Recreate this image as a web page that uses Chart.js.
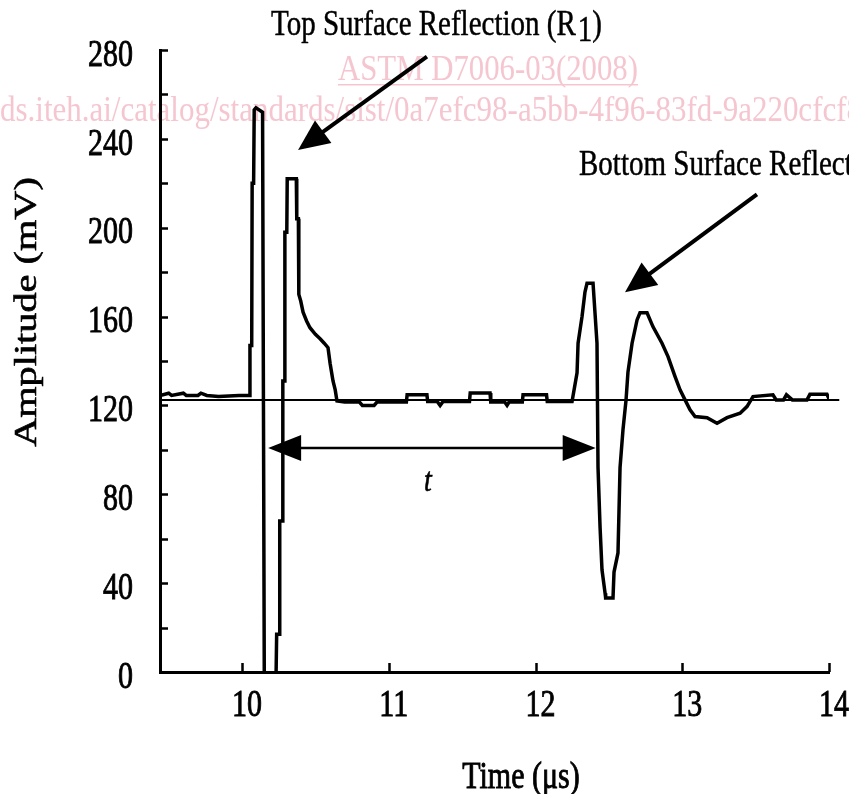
<!DOCTYPE html>
<html>
<head>
<meta charset="utf-8">
<script src="https://cdn.jsdelivr.net/npm/chart.js@4.4.0/dist/chart.umd.min.js"></script>
<style>
  html, body { margin: 0; padding: 0; background: #fff; }
  canvas { display: block; }
</style>
</head>
<body>
<canvas id="c" width="849" height="794"></canvas>
<script>
const timeUs = [
  9.441, 9.50, 9.52, 9.60, 9.62, 9.70, 9.72, 9.76, 9.84, 9.98, 10.04,
  10.050, 10.054, 10.066, 10.069, 10.079, 10.083, 10.095, 10.140, 10.146, 10.152,
  10.230, 10.236, 10.254, 10.257, 10.275, 10.278, 10.289, 10.292, 10.305, 10.308,
  10.370, 10.373, 10.384, 10.387, 10.40, 10.416, 10.44, 10.463, 10.50, 10.532,
  10.56, 10.586, 10.60, 10.61, 10.62, 10.635, 10.647,
  10.70, 10.80, 10.82, 10.90, 10.92, 11.12, 11.125, 11.26, 11.265, 11.33, 11.35,
  11.37, 11.55, 11.555, 11.69, 11.695, 11.79, 11.806, 11.82, 11.91, 11.915,
  12.075, 12.08, 12.249,
  12.283, 12.29, 12.317, 12.337, 12.351, 12.392, 12.419, 12.426, 12.44, 12.453,
  12.474, 12.478, 12.528, 12.535, 12.562, 12.576, 12.596, 12.617, 12.63, 12.658,
  12.692, 12.712, 12.76, 12.80, 12.862, 12.903, 12.951, 12.985, 13.019, 13.053,
  13.087, 13.169, 13.237, 13.305, 13.394, 13.441, 13.482, 13.618, 13.64, 13.69,
  13.71, 13.75, 13.85, 13.87, 13.986, 14.0
];
const amplitudeMv = [
  124.5, 125.5, 124.5, 125.5, 124.5, 124.5, 125.5, 124.5, 124, 124.5, 124.5,
  124.5, 147, 147, 220, 220, 253, 254, 252, 120, -10,
  -10, 17, 17, 68, 68, 131, 131, 198, 198, 222,
  222, 204, 204, 170, 167, 162, 158, 155, 152, 150,
  148, 146, 139, 135, 131, 127, 122,
  121.5, 121.5, 120, 120, 121.5, 121.5, 124.8, 124.8, 121.8, 121.8, 120,
  121.8, 121.8, 125.6, 125.6, 121.5, 121.5, 120, 121.5, 121.5, 124.8,
  124.8, 121.8, 121.8,
  134.7, 148, 160, 171, 175, 175, 148, 92, 65, 46,
  35.5, 33.3, 33.3, 45, 53.6, 92, 109, 122.5, 135, 148,
  158.5, 161.7, 161.7, 155.5, 148, 142, 133, 127, 122.5, 118,
  115, 114.5, 112, 114.5, 116.5, 119.5, 124, 124.8, 122.5, 122.5,
  124.8, 122.5, 122.5, 125, 125, 123
];
const baselineMv = 122.5;
const baselineSpan = [9.441, 14.07];

const xTicks = [10, 11, 12, 13, 14];
const yTicks = [0, 20, 40, 60, 80, 100, 120, 140, 160, 180, 200, 220, 240, 260, 280];
const yLabels = [0, 40, 80, 120, 160, 200, 240, 280];

// annotation anchors, in data units
const topArrow = { from: [11.26, 277], to: [10.382, 235] };
const bottomArrow = { from: [13.509, 215], to: [12.61, 171] };
const spanArrow = { from: 10.178, to: 12.41, at: 100.8 };

const SERIF = '"Liberation Serif", "Times New Roman", serif';
const PINK = '#f5c6d0';
const SY = 1.27;

function stretchText(ctx, text, x, y, font, align, sy, bold) {
  ctx.save();
  ctx.translate(x, y);
  ctx.scale(1, sy);
  ctx.font = font;
  ctx.textAlign = align;
  ctx.textBaseline = 'alphabetic';
  ctx.fillText(text, 0, 0);
  if (bold) {
    ctx.lineWidth = bold;
    ctx.strokeText(text, 0, 0);
  }
  ctx.restore();
}

function fitText(ctx, text, x, y, width, font, sy) {
  ctx.save();
  ctx.font = font;
  const w = ctx.measureText(text).width;
  ctx.translate(x, y);
  ctx.scale(width / w, sy);
  ctx.textAlign = 'left';
  ctx.textBaseline = 'alphabetic';
  ctx.fillText(text, 0, 0);
  ctx.restore();
}

function head(ctx, tx, ty, fx, fy, len, half) {
  const a = Math.atan2(ty - fy, tx - fx);
  const bx = tx - len * Math.cos(a), by = ty - len * Math.sin(a);
  ctx.beginPath();
  ctx.moveTo(tx, ty);
  ctx.lineTo(bx + half * Math.sin(a), by - half * Math.cos(a));
  ctx.lineTo(bx - half * Math.sin(a), by + half * Math.cos(a));
  ctx.closePath();
  ctx.fill();
}

function arrow(ctx, x1, y1, x2, y2, lw) {
  const a = Math.atan2(y2 - y1, x2 - x1);
  ctx.lineWidth = lw;
  ctx.beginPath();
  ctx.moveTo(x1, y1);
  ctx.lineTo(x2 - 20 * Math.cos(a), y2 - 20 * Math.sin(a));
  ctx.stroke();
  head(ctx, x2, y2, x1, y1, 31, 14);
}

const decor = {
  id: 'decor',
  beforeDraw(chart) {
    const { ctx, width, height } = chart;
    ctx.save();
    ctx.fillStyle = '#fff';
    ctx.fillRect(0, 0, width, height);
    ctx.fillStyle = PINK;
    const wm = '29px ' + SERIF;
    fitText(ctx, 'ASTM D7006-03(2008)', 338, 80, 300, wm, SY);
    ctx.fillRect(338, 84, 300, 1.5);
    fitText(ctx, 'ds.iteh.ai/catalog/standards/sist/0a7efc98-a5bb-4f96-83fd-9a220cfcf8', 0, 121, 862, wm, SY);
    ctx.restore();
  },
  afterDraw(chart) {
    const { ctx, chartArea: area } = chart;
    const x = chart.scales.x, y = chart.scales.y;
    ctx.save();
    ctx.fillStyle = '#000';
    ctx.strokeStyle = '#000';

    // inward ticks
    ctx.lineWidth = 2.5;
    ctx.beginPath();
    yTicks.forEach(v => {
      const py = Math.round(y.getPixelForValue(v)) + 0.5;
      ctx.moveTo(area.left, py);
      ctx.lineTo(area.left + 8, py);
    });
    xTicks.forEach(v => {
      const px = Math.round(x.getPixelForValue(v)) + 0.5;
      ctx.moveTo(px, area.bottom);
      ctx.lineTo(px, area.bottom - 9);
    });
    ctx.stroke();

    // tick labels
    const tickFont = '30px ' + SERIF;
    yLabels.forEach(v => {
      stretchText(ctx, String(v), 133, y.getPixelForValue(v) + 3 + 10 * SY, tickFont, 'right', SY, 0.7);
    });
    xTicks.forEach(v => {
      stretchText(ctx, String(v), x.getPixelForValue(v) + 5, 703 + 10 * SY, tickFont, 'center', SY, 0.7);
    });

    // axis titles
    stretchText(ctx, 'Time (\u03bcs)', 521, 775 + 10 * SY, '30px ' + SERIF, 'center', SY, 0.7);
    ctx.save();
    ctx.translate(28, 312);
    ctx.rotate(-Math.PI / 2);
    ctx.scale(1.3, 1);
    ctx.font = '31px ' + SERIF;
    ctx.textAlign = 'center';
    ctx.textBaseline = 'middle';
    ctx.fillText('Amplitude (mV)', 0, 0);
    ctx.lineWidth = 0.6;
    ctx.strokeText('Amplitude (mV)', 0, 0);
    ctx.restore();

    // callouts
    const capFont = '29px ' + SERIF;
    ctx.save();
    ctx.font = capFont;
    let tx = 271;
    const part1 = 'Top Surface Reflection (R';
    stretchText(ctx, part1, tx, 35, capFont, 'left', SY, 0.4);
    tx += ctx.measureText(part1).width + 2;
    stretchText(ctx, '1', tx, 41, capFont, 'left', SY, 0.4);
    tx += ctx.measureText('1').width;
    stretchText(ctx, ')', tx, 35, capFont, 'left', SY, 0.4);
    ctx.restore();
    stretchText(ctx, 'Bottom Surface Reflection (R2)', 579, 175, capFont, 'left', SY, 0.4);

    arrow(ctx, x.getPixelForValue(topArrow.from[0]), y.getPixelForValue(topArrow.from[1]),
      x.getPixelForValue(topArrow.to[0]), y.getPixelForValue(topArrow.to[1]), 4);
    arrow(ctx, x.getPixelForValue(bottomArrow.from[0]), y.getPixelForValue(bottomArrow.from[1]),
      x.getPixelForValue(bottomArrow.to[0]), y.getPixelForValue(bottomArrow.to[1]), 4);

    // transit time span
    const sx1 = x.getPixelForValue(spanArrow.from), sx2 = x.getPixelForValue(spanArrow.to);
    const sy = y.getPixelForValue(spanArrow.at);
    ctx.lineWidth = 2.5;
    ctx.beginPath();
    ctx.moveTo(sx1 + 20, sy);
    ctx.lineTo(sx2 - 20, sy);
    ctx.stroke();
    head(ctx, sx1, sy, sx2, sy, 33, 13);
    head(ctx, sx2, sy, sx1, sy, 33, 13);
    stretchText(ctx, 't', 428, 481 + 8 * 1.2, 'italic 28px ' + SERIF, 'center', 1.2, 0.5);

    ctx.restore();
  }
};

const trace = timeUs.map((t, i) => ({ x: t, y: amplitudeMv[i] }));
const refLine = baselineSpan.map(t => ({ x: t, y: baselineMv }));

new Chart(document.getElementById('c').getContext('2d'), {
  type: 'line',
  data: {
    datasets: [
      { data: trace, borderColor: '#000', borderWidth: 3.5, pointRadius: 0, tension: 0, fill: false, borderJoinStyle: 'miter' },
      { data: refLine, borderColor: '#000', borderWidth: 2, pointRadius: 0, fill: false, clip: { left: 0, top: 0, right: 12, bottom: 0 } }
    ]
  },
  options: {
    responsive: false,
    animation: false,
    devicePixelRatio: 1,
    layout: { padding: { left: 0, top: 50, right: 20, bottom: 0 } },
    plugins: { legend: { display: false }, tooltip: { enabled: false } },
    scales: {
      x: {
        type: 'linear', min: 9.441, max: 14,
        afterBuildTicks: s => { s.ticks = xTicks.map(v => ({ value: v })); },
        afterFit: s => { s.height = 122; },
        ticks: { display: false },
        grid: { display: false },
        border: { display: true, color: '#000', width: 3 }
      },
      y: {
        type: 'linear', min: 0, max: 280,
        afterBuildTicks: s => { s.ticks = yTicks.map(v => ({ value: v })); },
        afterFit: s => { s.width = 160; },
        ticks: { display: false },
        grid: { display: false },
        border: { display: true, color: '#000', width: 3 }
      }
    }
  },
  plugins: [decor]
});
</script>
</body>
</html>
